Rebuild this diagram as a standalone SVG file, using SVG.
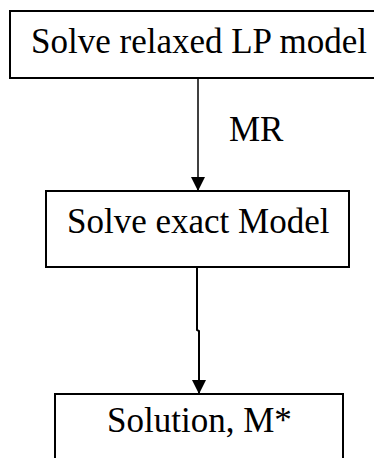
<svg xmlns="http://www.w3.org/2000/svg" width="374" height="458" viewBox="0 0 374 458">
  <style>
    .box { fill: #ffffff; stroke: #000000; stroke-width: 2; }
    .label { font-family: "Liberation Serif", "Times New Roman", serif; font-size: 35px; fill: #000000; }
    .edge { fill: none; stroke: #000000; stroke-width: 1.5; }
  </style>
  <defs>
    <marker id="arrow" markerWidth="14" markerHeight="14" refX="14" refY="7" orient="auto" markerUnits="userSpaceOnUse">
      <path d="M0,0 L14,7 L0,14 Z" fill="#000000"/>
    </marker>
  </defs>
  <rect width="374" height="458" fill="#ffffff"/>

  <g id="connectors">
    <line class="edge" x1="198" y1="78" x2="198" y2="191" marker-end="url(#arrow)"/>
    <polyline class="edge" points="197,267 197,330 199,331 199,394" style="stroke-width:2" marker-end="url(#arrow)"/>
    <text class="label" x="229" y="141">MR</text>
  </g>

  <g id="relax">
    <rect class="box" x="10" y="11" width="380" height="67"/>
    <text class="label" x="31" y="53">Solve relaxed LP model</text>
  </g>

  <g id="exact">
    <rect class="box" x="46" y="191" width="303" height="76"/>
    <text class="label" x="67" y="233">Solve exact Model</text>
  </g>

  <g id="solution">
    <rect class="box" x="55" y="394" width="288" height="80"/>
    <text class="label" x="107" y="432">Solution, M*</text>
  </g>
</svg>
